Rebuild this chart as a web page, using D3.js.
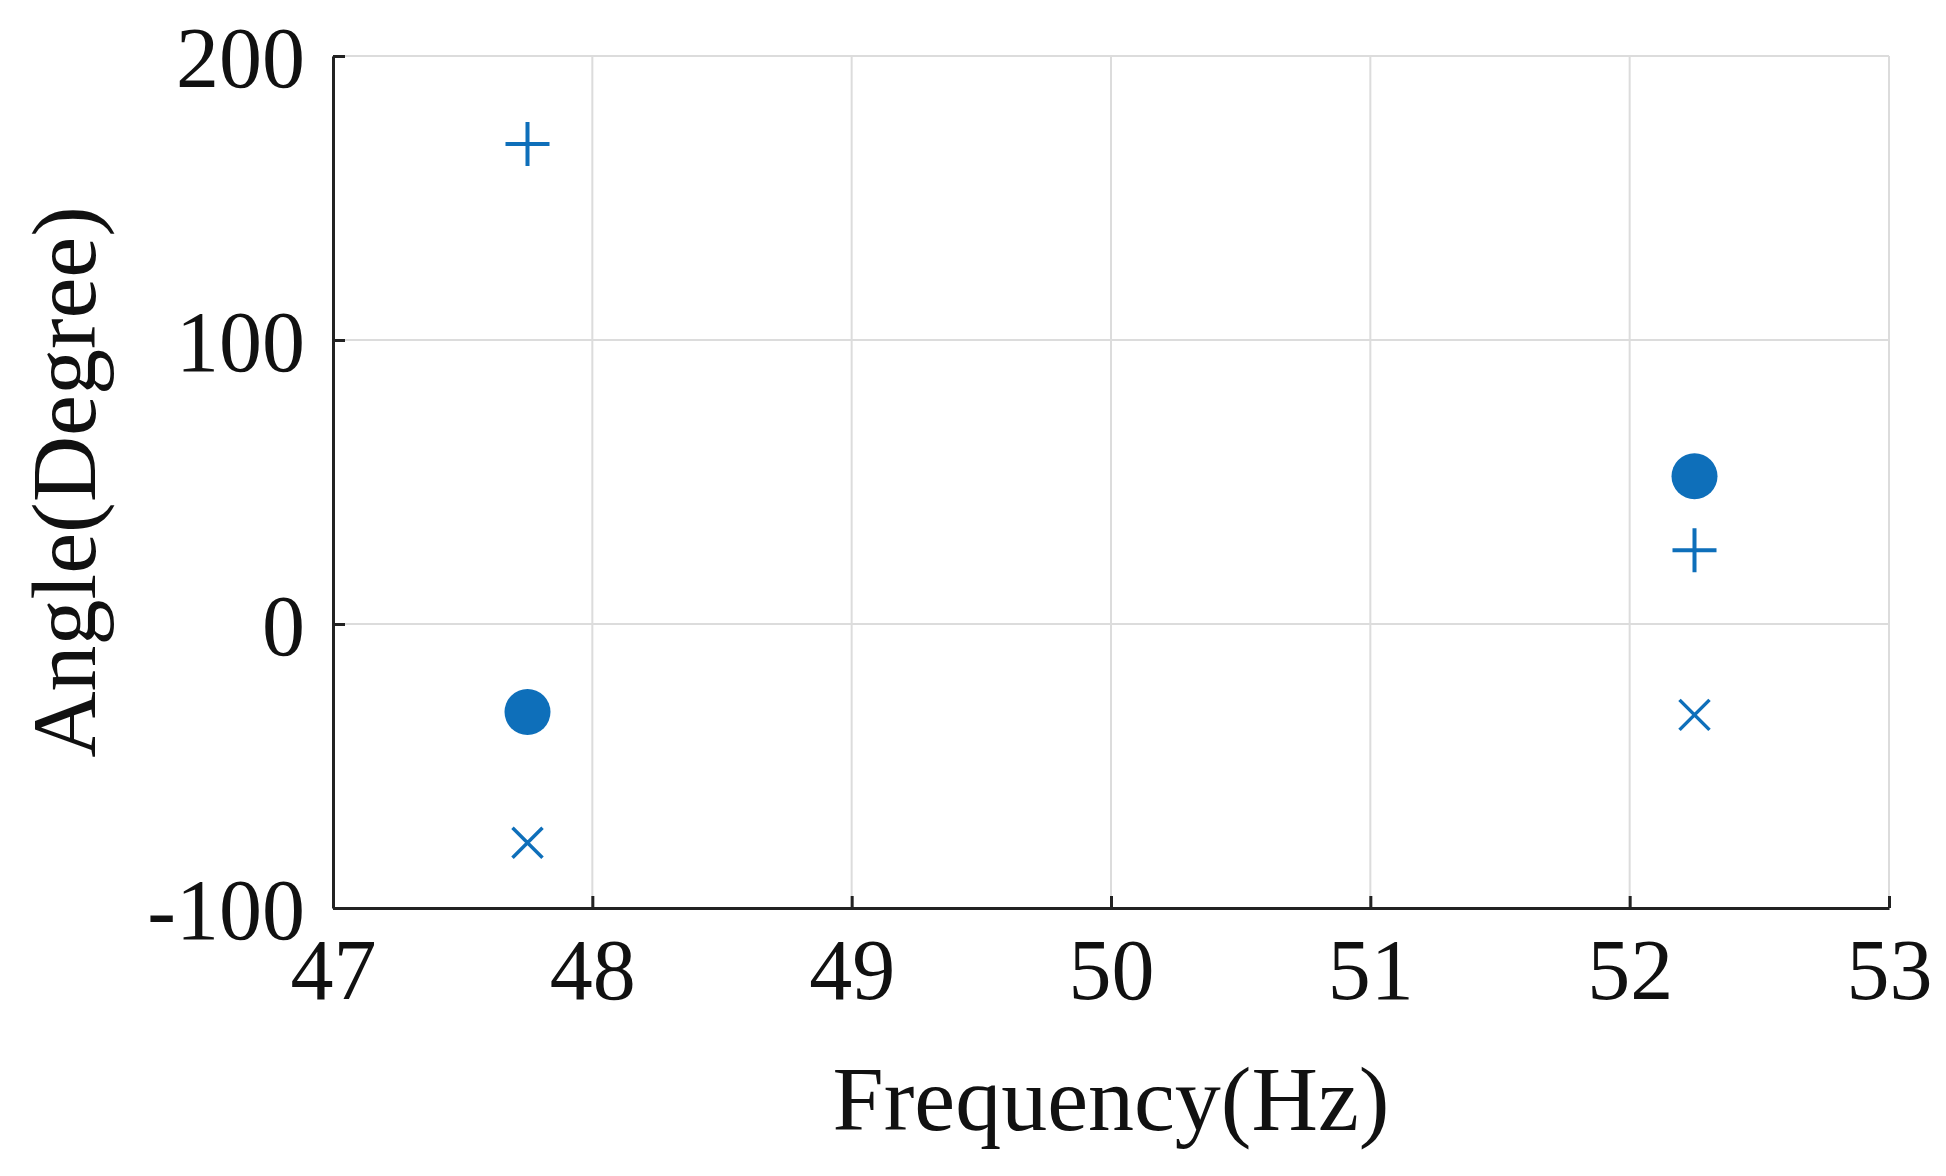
<!DOCTYPE html><html><head><meta charset="utf-8"><script src="https://cdn.jsdelivr.net/npm/d3@7"></script>
<style>body{margin:0;background:#fff}</style></head><body><svg id="c" width="1946" height="1176"></svg>
<script>
const xTicks=[47,48,49,50,51,52,53];
const yTicks=[-100,0,100,200];
const freqs=[47.75,52.25];
const circleVals=[-31,52];
const plusVals=[169,26];
const crossVals=[-77,-32];
const color="#0e6fba";
const svg=d3.select("#c");
const m={l:333,r:1889,t:56,b:908};
const x=d3.scaleLinear().domain([47,53]).range([m.l,m.r]);
const y=d3.scaleLinear().domain([-100,200]).range([m.b,m.t]);
const g=svg.append("g");
g.selectAll(".gx").data(xTicks).join("line").attr("x1",d=>x(d)).attr("x2",d=>x(d)).attr("y1",m.t).attr("y2",m.b).attr("stroke","#dcdcdc").attr("stroke-width",2);
g.selectAll(".gy").data(yTicks).join("line").attr("y1",d=>y(d)).attr("y2",d=>y(d)).attr("x1",m.l).attr("x2",m.r).attr("stroke","#dcdcdc").attr("stroke-width",2);
const font="'Liberation Serif','Times New Roman',serif";
const fmt=d=>String(d);
const xa=svg.append("g").attr("transform",`translate(0,${m.b})`).call(d3.axisBottom(x).tickValues(xTicks).tickFormat(fmt).tickSize(-12).tickSizeOuter(0).tickPadding(30));
const ya=svg.append("g").attr("transform",`translate(${m.l},0)`).call(d3.axisLeft(y).tickValues(yTicks).tickFormat(fmt).tickSize(-12).tickSizeOuter(0).tickPadding(28));
[xa,ya].forEach(a=>{a.select(".domain").attr("stroke","#222").attr("stroke-width",3);a.selectAll(".tick line").attr("stroke","#222").attr("stroke-width",3);a.selectAll("text").attr("font-family",font).attr("font-size",86).attr("fill","#111");});
ya.selectAll("text").attr("dy","0.35em");
svg.append("text").attr("x",(m.l+m.r)/2).attr("y",1130).attr("text-anchor","middle").attr("font-family",font).attr("font-size",92).attr("fill","#111").text("Frequency(Hz)");
svg.append("text").attr("transform",`translate(95,${(m.t+m.b)/2}) rotate(-90)`).attr("text-anchor","middle").attr("font-family",font).attr("font-size",92).attr("fill","#111").text("Angle(Degree)");
const pts=svg.append("g");
pts.selectAll("circle").data(freqs).join("circle").attr("cx",d=>x(d)).attr("cy",(d,i)=>y(circleVals[i])).attr("r",23).attr("fill",color);
pts.selectAll(".p").data(freqs).join("path").attr("class","p").attr("d",(d,i)=>{const cx=x(d),cy=y(plusVals[i]),s=22;return `M${cx-s},${cy}H${cx+s}M${cx},${cy-s}V${cy+s}`;}).attr("stroke",color).attr("stroke-width",4);
pts.selectAll(".x").data(freqs).join("path").attr("class","x").attr("d",(d,i)=>{const cx=x(d),cy=y(crossVals[i]),s=15;return `M${cx-s},${cy-s}L${cx+s},${cy+s}M${cx+s},${cy-s}L${cx-s},${cy+s}`;}).attr("stroke",color).attr("stroke-width",3.5);
</script></body></html>
